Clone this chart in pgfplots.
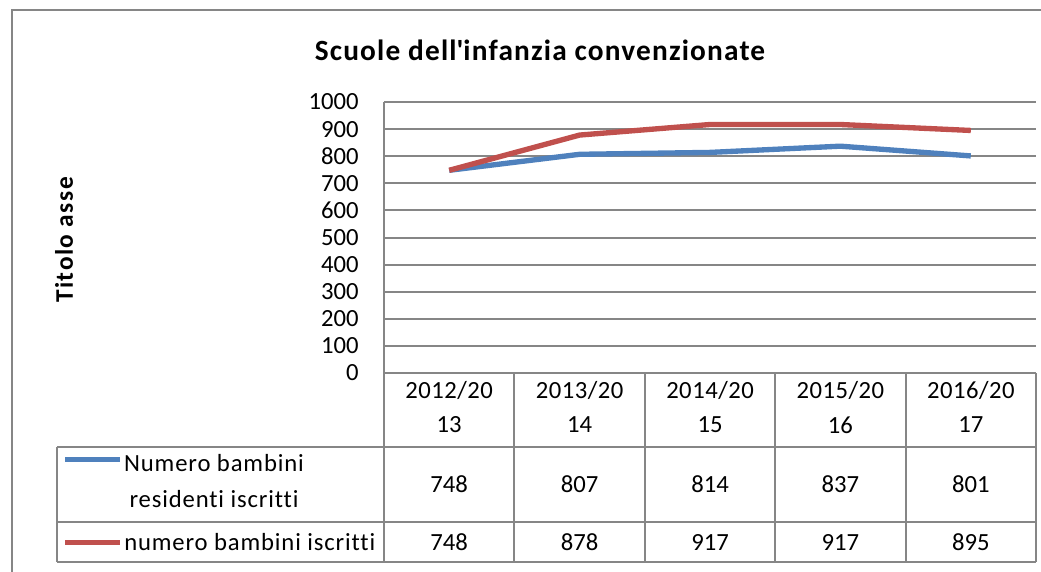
\documentclass[border=0pt]{standalone}
\usepackage{fontspec}
\setmainfont{Carlito}[Ligatures={NoCommon}]
\usepackage{pgfplots}
\pgfplotsset{compat=1.18}
\definecolor{xblue}{HTML}{4F81BD}
\definecolor{xred}{HTML}{C0504D}
\definecolor{xgrid}{HTML}{868686}
\newcommand{\tf}{\fontsize{18.5}{22}\selectfont}
\newcommand{\lf}{\fontsize{18.5}{22}\selectfont\addfontfeature{LetterSpace=3.5}}
\begin{document}
\begin{tikzpicture}
\path[use as bounding box] (0,0) rectangle (780.75pt,-428.25pt);
\begin{axis}[
  at={(288pt,-279.75pt)}, anchor=south west,
  scale only axis, width=489pt, height=203.25pt,
  xmin=-0.5, xmax=4.5, ymin=0, ymax=1000,
  ytick={0,100,...,1000},
  xtick=\empty,
  ymajorgrids,
  grid style={xgrid, line width=1.5pt},
  axis lines=left,
  axis line style={draw=xgrid, line width=1.5pt, -},
  major tick length=0pt,
  ticklabel style={font=\tf, text=black},
  yticklabel style={anchor=east, inner sep=0pt, xshift=-18.75pt},
  /pgf/number format/assume math mode=true,
  /pgf/number format/1000 sep={},
  clip=false,
]
\addplot[xblue, line width=4pt, line join=round] coordinates {(0,748) (1,807) (2,814) (3,837) (4,801)};
\addplot[xred, line width=4pt, line join=round] coordinates {(0,748) (1,878) (2,917) (3,917) (4,895)};
\end{axis}
\begin{scope}[x=0.75pt, y=-0.75pt]
  % outer frame
  \draw[xgrid, line width=1.75pt] (12,580) -- (12,10) -- (1050,10);
  % title and axis title
  \node[font=\bfseries\fontsize{22}{26}\selectfont\addfontfeature{LetterSpace=4}] at (540,50) {Scuole dell\textquotesingle infanzia convenzionate};
  \node[font=\bfseries\fontsize{19}{22}\selectfont\addfontfeature{LetterSpace=6}, rotate=90] at (64,240) {Titolo asse};
  % table lines
  \begin{scope}[xgrid, line width=1.5pt]
    \draw (57,447) -- (1036,447);
    \draw (57,522) -- (1036,522);
    \draw (57,562) -- (1036,562);
    \draw (57,447) -- (57,562);
    \draw (384,373) -- (384,562);
    \foreach \c in {514.4,644.8,775.2,905.6,1036} {\draw (\c,373) -- (\c,562);}
  \end{scope}
  % header
  \foreach \i/\a/\b in {0/2012/13,1/2013/14,2/2014/15,3/2015/16,4/2016/17} {
    \node[font=\tf\addfontfeature{LetterSpace=2}] at ({449.2+130.4*\i},390) {\a/20};
    \node[font=\tf] at ({449.2+130.4*\i},425) {\b};
  }
  % values
  \foreach \i/\v/\w in {0/748/748,1/807/878,2/814/917,3/837/917,4/801/895} {
    \node[font=\tf] at ({449.2+130.4*\i},484) {\v};
    \node[font=\tf] at ({449.2+130.4*\i},542) {\w};
  }
  % legend
  \draw[xblue, line width=3.75pt] (65,459) -- (120,459);
  \draw[xred, line width=3.75pt] (65,542) -- (120,542);
  \node[font=\lf] at (214,463) {Numero bambini};
  \node[font=\lf] at (214,499) {residenti iscritti};
  \node[font=\lf, anchor=west, inner sep=0pt] at (124,542) {numero bambini iscritti};
\end{scope}
\end{tikzpicture}
\end{document}
